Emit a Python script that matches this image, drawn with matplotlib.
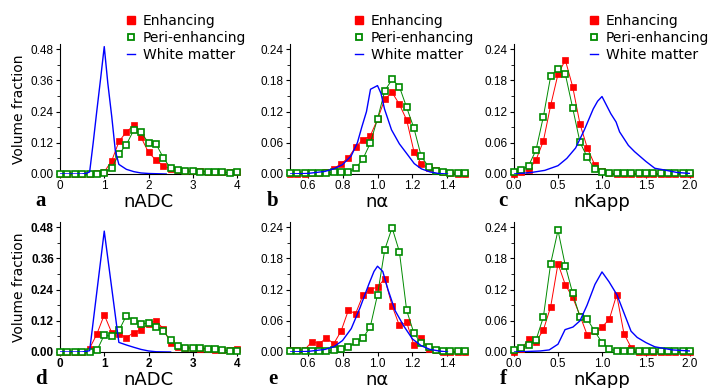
import numpy as np
import matplotlib
matplotlib.use('Agg')
import matplotlib.pyplot as plt
from matplotlib.lines import Line2D

# bin centres of the histograms
adc_bins = np.linspace(0, 4, 25)
alpha_bins = np.linspace(0.5, 1.5, 25)
kapp_bins = np.linspace(0, 2, 25)

# ---- top row ----
adc_enh_top = [0, 0, 0, 0, 0, 0.002, 0.008, 0.05, 0.125, 0.162, 0.187, 0.141, 0.083,
               0.054, 0.032, 0.019, 0.014, 0.012, 0.01, 0.01, 0.009, 0.008, 0.007, 0.006, 0.008]
adc_peri_top = [0.001, 0.001, 0.001, 0.001, 0.001, 0.001, 0.004, 0.022, 0.077, 0.113, 0.169, 0.160,
                0.120, 0.117, 0.063, 0.022, 0.015, 0.012, 0.01, 0.009, 0.008, 0.008, 0.007, 0.005, 0.007]
adc_wm_top_x = [0, 0.5, 0.6, 0.67, 0.75, 0.83, 0.92, 1.0, 1.08, 1.17, 1.25, 1.33, 1.5, 1.67, 1.83, 2.0, 2.2, 2.4]
adc_wm_top = [0, 0, 0.003, 0.008, 0.12, 0.24, 0.37, 0.49, 0.35, 0.22, 0.09, 0.037, 0.018, 0.009, 0.004, 0.002, 0.001, 0]

alpha_enh_top = [0, 0, 0, 0.001, 0.002, 0.004, 0.01, 0.02, 0.031, 0.052, 0.066, 0.073, 0.105,
                 0.144, 0.157, 0.134, 0.104, 0.043, 0.02, 0.011, 0.008, 0.003, 0.001, 0, 0]
alpha_peri_top = [0.001, 0.001, 0.001, 0.001, 0.002, 0.002, 0.003, 0.003, 0.004, 0.011, 0.029, 0.059,
                  0.106, 0.16, 0.182, 0.168, 0.128, 0.088, 0.034, 0.014, 0.006, 0.003, 0.002, 0.002, 0.002]
alpha_wm_top_x = [0.5, 0.6, 0.7, 0.75, 0.8, 0.85, 0.885, 0.91, 0.937, 0.96, 1.0, 1.02, 1.04, 1.08,
                  1.125, 1.17, 1.21, 1.25, 1.3, 1.35, 1.4]
alpha_wm_top = [0, 0.001, 0.005, 0.01, 0.018, 0.035, 0.06, 0.09, 0.12, 0.163, 0.17, 0.155, 0.125, 0.085,
                0.058, 0.038, 0.02, 0.01, 0.004, 0.001, 0]

kapp_enh_top = [0, 0.003, 0.008, 0.027, 0.063, 0.132, 0.192, 0.219, 0.168, 0.096, 0.05, 0.018, 0.005,
                0.002, 0, 0, 0, 0, 0, 0, 0, 0, 0, 0, 0]
kapp_peri_top = [0.003, 0.008, 0.016, 0.046, 0.11, 0.188, 0.202, 0.192, 0.127, 0.061, 0.032, 0.009, 0.003,
                 0.001, 0.001, 0.001, 0.001, 0.001, 0.001, 0.001, 0.001, 0.001, 0.001, 0.001, 0.001]
kapp_wm_top_x = [0, 0.2, 0.35, 0.5, 0.6, 0.7, 0.8, 0.9, 0.95, 1.0, 1.1, 1.16, 1.2, 1.3, 1.37, 1.5,
                 1.6, 1.7, 1.85, 2.0]
kapp_wm_top = [0, 0.003, 0.007, 0.016, 0.03, 0.05, 0.085, 0.125, 0.14, 0.149, 0.116, 0.1, 0.081, 0.055,
               0.043, 0.024, 0.011, 0.008, 0.003, 0.001]

# ---- bottom row ----
adc_enh_bot = [0, 0, 0, 0.001, 0.013, 0.069, 0.143, 0.075, 0.07, 0.055, 0.075, 0.085, 0.108, 0.12,
               0.09, 0.035, 0.02, 0.016, 0.014, 0.013, 0.011, 0.009, 0.007, 0.006, 0.01]
adc_peri_bot = [0.001, 0.001, 0.001, 0.001, 0.001, 0.006, 0.065, 0.06, 0.083, 0.14, 0.12, 0.107, 0.112,
                0.098, 0.08, 0.045, 0.022, 0.015, 0.016, 0.015, 0.013, 0.01, 0.006, 0.004, 0.003]
adc_wm_bot_x = [0, 0.5, 0.67, 1.0, 1.33, 1.5, 1.67, 1.83, 2.0, 2.17, 2.5]
adc_wm_bot = [0, 0, 0.005, 0.465, 0.037, 0.027, 0.018, 0.01, 0.004, 0.001, 0]

alpha_enh_bot = [0.003, 0.004, 0.004, 0.02, 0.016, 0.027, 0.016, 0.04, 0.08, 0.074, 0.109, 0.12, 0.125,
                 0.141, 0.089, 0.051, 0.057, 0.013, 0.026, 0.006, 0.003, 0, 0, 0, 0]
alpha_peri_bot = [0.001, 0.001, 0.001, 0.001, 0.001, 0.002, 0.003, 0.006, 0.009, 0.019, 0.027, 0.048,
                  0.11, 0.197, 0.239, 0.193, 0.08, 0.036, 0.017, 0.01, 0.004, 0.002, 0.001, 0.001, 0.001]
alpha_wm_bot_x = [0.5, 0.6, 0.7, 0.75, 0.8, 0.85, 0.9, 0.95, 0.98, 1.0, 1.03, 1.06, 1.1, 1.15, 1.2,
                  1.25, 1.3, 1.35, 1.4]
alpha_wm_bot = [0, 0.001, 0.005, 0.01, 0.022, 0.045, 0.085, 0.13, 0.155, 0.165, 0.155, 0.12, 0.08,
                0.05, 0.025, 0.012, 0.005, 0.002, 0]

kapp_enh_bot = [0, 0.005, 0.025, 0.02, 0.042, 0.087, 0.17, 0.129, 0.105, 0.07, 0.032, 0.04, 0.048,
                0.063, 0.11, 0.035, 0.008, 0, 0, 0, 0, 0, 0, 0, 0]
kapp_peri_bot = [0.003, 0.007, 0.014, 0.023, 0.067, 0.17, 0.234, 0.166, 0.113, 0.067, 0.063, 0.04,
                 0.018, 0.006, 0.002, 0.001, 0.001, 0.001, 0.001, 0.001, 0.001, 0.001, 0.001, 0.001, 0.001]
kapp_wm_bot_x = [0, 0.3, 0.4, 0.5, 0.58, 0.67, 0.75, 0.83, 0.92, 1.0, 1.08, 1.17, 1.25, 1.33, 1.4,
                 1.5, 1.6, 1.7, 1.8, 2.0]
kapp_wm_bot = [0, 0.002, 0.004, 0.015, 0.043, 0.048, 0.06, 0.09, 0.13, 0.154, 0.135, 0.11, 0.075,
               0.04, 0.028, 0.018, 0.01, 0.007, 0.004, 0.002]

legend_labels = ['Enhancing', 'Peri-enhancing', 'White matter']
RED = '#ff0000'
GREEN = '#008a00'
BLUE = '#0000ff'

W, H = 712, 388


def px(x, y):
    # pixel (from top left) -> figure fraction
    return x / W, 1 - y / H


def panel(fig, rect, bins, enh, peri, wm_x, wm, xlim, xticks, xticklabels, ymax, yticks, bold=False):
    ax = fig.add_axes(rect)
    ax.plot(bins, enh, color=RED, lw=0.7, marker='s', ms=4.6, mfc=RED, mec=RED, mew=0.5,
            clip_on=False, zorder=3)
    ax.plot(bins, peri, color=GREEN, lw=0.7, marker='s', ms=4.2, mfc='white', mec=GREEN, mew=1.2,
            clip_on=False, zorder=4)
    ax.plot(wm_x, wm, color=BLUE, lw=1.0, zorder=5)
    ax.set_xlim(*xlim)
    ax.set_ylim(0, ymax)
    weight = 'bold' if bold else 'normal'
    ax.set_xticks(xticks)
    ax.set_xticklabels(xticklabels, fontsize=8.5, family='Liberation Sans', fontweight=weight)
    ax.set_yticks(yticks)
    ax.set_yticklabels(['%.2f' % v for v in yticks], fontsize=8.5, family='Liberation Sans',
                       fontweight=weight)
    step = yticks[1] - yticks[0]
    ax.set_yticks(np.arange(step / 2, ymax, step), minor=True)
    ax.spines['top'].set_visible(False)
    ax.spines['right'].set_visible(False)
    ax.tick_params(axis='both', which='major', direction='out', length=3, width=0.8, pad=1.5)
    ax.tick_params(axis='y', which='minor', direction='out', length=2, width=0.6)
    return ax


def add_legend(ax, fig, x, y):
    handles = [
        Line2D([], [], ls='none', marker='s', ms=5.2, mfc=RED, mec=RED),
        Line2D([], [], ls='none', marker='s', ms=4.8, mfc='white', mec=GREEN, mew=1.3),
        Line2D([], [], color=BLUE, lw=1.0),
    ]
    ax.legend(handles, legend_labels, loc='upper left', bbox_to_anchor=px(x, y),
              bbox_transform=fig.transFigure, frameon=False, fontsize=10, borderpad=0,
              borderaxespad=0, handlelength=0.6, handletextpad=0.55, labelspacing=0.2)


def main():
    fig = plt.figure(figsize=(7.12, 3.88), dpi=100)

    lefts = [60, 290, 514]
    widths = [177, 175, 176]
    top_bottom, bot_bottom, height = 174, 352, 130

    adc_ticks = [0, 1, 2, 3, 4]
    alpha_ticks = [0.6, 0.8, 1.0, 1.2, 1.4]
    kapp_ticks = [0.0, 0.5, 1.0, 1.5, 2.0]
    y48 = [0, 0.12, 0.24, 0.36, 0.48]
    y24 = [0, 0.06, 0.12, 0.18, 0.24]

    rows = [
        (top_bottom, [(adc_enh_top, adc_peri_top, adc_wm_top_x, adc_wm_top),
                      (alpha_enh_top, alpha_peri_top, alpha_wm_top_x, alpha_wm_top),
                      (kapp_enh_top, kapp_peri_top, kapp_wm_top_x, kapp_wm_top)]),
        (bot_bottom, [(adc_enh_bot, adc_peri_bot, adc_wm_bot_x, adc_wm_bot),
                      (alpha_enh_bot, alpha_peri_bot, alpha_wm_bot_x, alpha_wm_bot),
                      (kapp_enh_bot, kapp_peri_bot, kapp_wm_bot_x, kapp_wm_bot)]),
    ]
    settings = [
        (adc_bins, (0, 4), adc_ticks, ['0', '1', '2', '3', '4'], 0.5, y48, 'nADC'),
        (alpha_bins, (0.5, 1.5), alpha_ticks, ['0.6', '0.8', '1.0', '1.2', '1.4'], 0.25, y24, 'n\u03b1'),
        (kapp_bins, (0, 2), kapp_ticks, ['0.0', '0.5', '1.0', '1.5', '2.0'], 0.25, y24, 'nKapp'),
    ]
    letters = [['a', 'b', 'c'], ['d', 'e', 'f']]
    letter_x = [41, 273, 503]
    legend_x = [127, 355, 590]

    for r, (bottom, series) in enumerate(rows):
        for c in range(3):
            bins, xlim, xt, xtl, ymax, yt, xlabel = settings[c]
            enh, peri, wm_x, wm = series[c]
            x0, y0 = px(lefts[c], bottom)
            rect = [x0, y0, widths[c] / W, height / H]
            ax = panel(fig, rect, bins, enh, peri, wm_x, wm, xlim, xt, xtl, ymax, yt,
                       bold=(r == 1 and c == 0))
            # x label and panel letter
            fig.text(*px(lefts[c] + widths[c] / 2, bottom + 33), xlabel, fontsize=13,
                     ha='center', va='baseline')
            fig.text(*px(letter_x[c], bottom + 32), letters[r][c], fontsize=15, weight='bold',
                     family='Liberation Serif', ha='center', va='baseline')
            if c == 0:
                fig.text(*px(19, bottom - height / 2), 'Volume fraction', fontsize=10,
                         rotation=90, ha='center', va='center')
            if r == 0:
                add_legend(ax, fig, legend_x[c], 14)

    fig.savefig('out.png', dpi=100)


if __name__ == '__main__':
    main()
